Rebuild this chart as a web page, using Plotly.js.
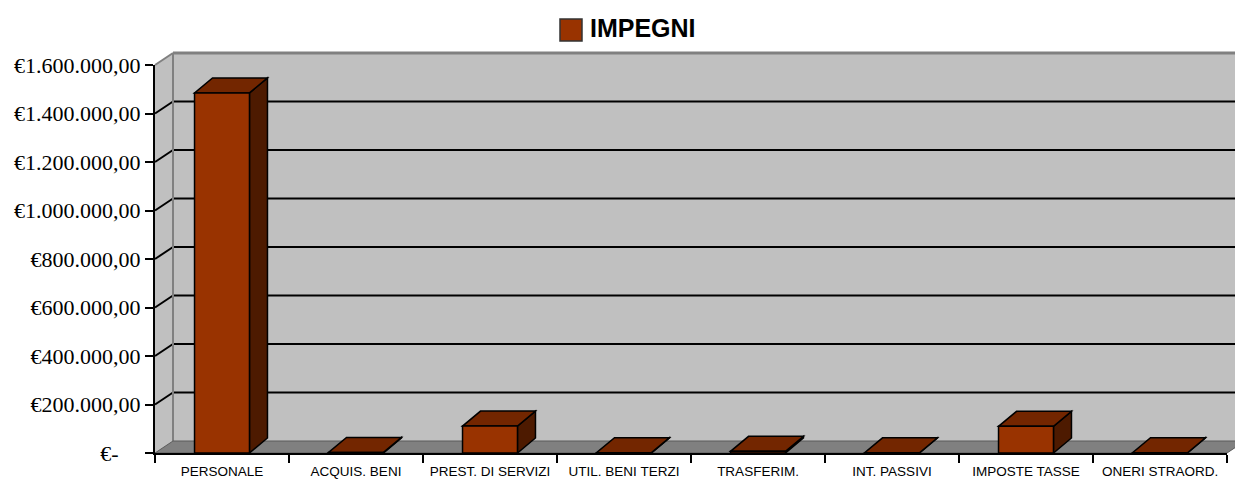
<!DOCTYPE html>
<html>
<head>
<meta charset="utf-8">
<script src="https://cdn.plot.ly/plotly-3.0.1.min.js"></script>
<style>html,body{margin:0;padding:0;background:#fff;}#chart{width:1235px;height:482px;}</style>
</head>
<body>
<div id="chart"></div>
<script>
// ---- data ----
var categories = ["PERSONALE", "ACQUIS. BENI", "PREST. DI SERVIZI", "UTIL. BENI TERZI", "TRASFERIM.", "INT. PASSIVI", "IMPOSTE TASSE", "ONERI STRAORD."];
var impegni = [1485000, 2500, 111000, 1500, 7000, 800, 110000, 1200];
var seriesName = "IMPEGNI";
var yTickVals = [0, 200000, 400000, 600000, 800000, 1000000, 1200000, 1400000, 1600000];
var yTickText = ["€-\u00a0\u00a0\u00a0\u00a0", "€200.000,00", "€400.000,00", "€600.000,00", "€800.000,00", "€1.000.000,00", "€1.200.000,00", "€1.400.000,00", "€1.600.000,00"];

// ---- layout geometry ----
var W = 1235, H = 482;
var M = {l: 155, r: 8, t: 65, b: 29};
var plotW = W - M.l - M.r, plotH = H - M.t - M.b;
var n = categories.length;
var yMax = 1600000;
var xPerPx = n / plotW;          // category units per pixel
var yPerPx = yMax / plotH;       // value units per pixel
var barW = 0.41;
var bdx = 18, bdy = 15;          // bar depth (px)
var wdx = 18, wdy = 12;          // wall depth (px)

var FRONT = "#993300", TOP = "#732600", SIDE = "#4d1a00";
var WALL = "#c0c0c0", FLOOR = "#808080", EDGE = "#808080";

var shapes = [];
function px(xpix) { return xpix / plotW; }
function py(ypix) { return ypix / plotH; }
var wx = px(wdx), wy = py(wdy);

// left side wall
shapes.push({type: "path", xref: "paper", yref: "paper", layer: "below",
  path: "M0,0 L0,1 L" + wx + "," + (1 + wy) + " L" + wx + "," + wy + " Z",
  fillcolor: WALL, line: {width: 0}});
// back wall
shapes.push({type: "rect", xref: "paper", yref: "paper", layer: "below",
  x0: wx, x1: 1 + wx + 0.05, y0: wy, y1: 1 + wy, fillcolor: WALL, line: {width: 0}});
// gridlines on walls
yTickVals.forEach(function (v) {
  if (v === 0 || v === yMax) return;
  var f = v / yMax;
  shapes.push({type: "line", xref: "paper", yref: "paper", layer: "below",
    x0: 0, y0: f, x1: wx, y1: f + wy, line: {color: "#000", width: 2}});
  shapes.push({type: "line", xref: "paper", yref: "paper", layer: "below",
    x0: wx, y0: f + wy, x1: 1 + wx + 0.05, y1: f + wy, line: {color: "#000", width: 2}});
});
// wall edges
shapes.push({type: "line", xref: "paper", yref: "paper", layer: "below",
  x0: 0, y0: 1, x1: wx, y1: 1 + wy, line: {color: EDGE, width: 2}});
shapes.push({type: "line", xref: "paper", yref: "paper", layer: "below",
  x0: wx, y0: 1 + wy, x1: 1 + wx + 0.05, y1: 1 + wy, line: {color: EDGE, width: 3}});
shapes.push({type: "line", xref: "paper", yref: "paper", layer: "below",
  x0: wx, y0: wy, x1: wx, y1: 1 + wy, line: {color: EDGE, width: 2}});
// floor
shapes.push({type: "path", xref: "paper", yref: "paper", layer: "below",
  path: "M0,0 L1,0 L" + (1 + wx) + "," + wy + " L" + wx + "," + wy + " Z",
  fillcolor: FLOOR, line: {color: "#5a5a5a", width: 1}});

// 3D faces of bars (data coordinates)
var dxB = bdx * xPerPx, dyB = bdy * yPerPx, h = barW / 2;
impegni.forEach(function (v, i) {
  var l = i - h, r = i + h;
  shapes.push({type: "path", xref: "x", yref: "y", layer: "below",
    path: "M" + r + ",0 L" + (r + dxB) + "," + dyB + " L" + (r + dxB) + "," + (v + dyB) + " L" + r + "," + v + " Z",
    fillcolor: SIDE, line: {color: "#000", width: 1.5}});
  shapes.push({type: "path", xref: "x", yref: "y", layer: "below",
    path: "M" + l + "," + v + " L" + r + "," + v + " L" + (r + dxB) + "," + (v + dyB) + " L" + (l + dxB) + "," + (v + dyB) + " Z",
    fillcolor: TOP, line: {color: "#000", width: 1.5}});
});

// legend square
shapes.push({type: "rect", xref: "paper", yref: "paper", layer: "above",
  x0: px(560 - M.l), x1: px(582 - M.l), y0: py(H - M.b - 41), y1: py(H - M.b - 19),
  fillcolor: FRONT, line: {color: "#333", width: 1.5}});

var trace = {
  type: "bar", x: categories, y: impegni, name: seriesName, width: barW,
  marker: {color: FRONT, line: {color: "#000", width: 1.5}},
  hoverinfo: "x+y"
};

var layout = {
  width: W, height: H,
  margin: M,
  paper_bgcolor: "#fff", plot_bgcolor: "rgba(0,0,0,0)",
  showlegend: false,
  xaxis: {type: "category", range: [-0.5, n - 0.5], showgrid: false, zeroline: false,
    showline: true, linecolor: "#000", linewidth: 2, ticks: "outside", tickson: "boundaries",
    ticklen: 8, tickwidth: 2, tickcolor: "#000", tickangle: 0, automargin: false, ticklabelstandoff: 5,
    tickfont: {family: "'Liberation Sans', Arial, sans-serif", size: 13.5, color: "#000"}},
  yaxis: {range: [0, yMax], showgrid: false, zeroline: false, automargin: false,
    showline: true, linecolor: "#000", linewidth: 2, ticks: "outside", ticklen: 8, tickwidth: 2, tickcolor: "#000",
    tickmode: "array", tickvals: yTickVals, ticktext: yTickText,
    tickfont: {family: "'Liberation Serif', 'Times New Roman', serif", size: 22, color: "#000"}},
  shapes: shapes,
  annotations: [{xref: "paper", yref: "paper", x: px(588 - M.l), y: py(H - M.b - 28),
    xanchor: "left", yanchor: "middle", showarrow: false, text: "<b>" + seriesName + "</b>",
    font: {family: "'Liberation Sans', Arial, sans-serif", size: 25, color: "#000"}}]
};

Plotly.newPlot("chart", [trace], layout, {displayModeBar: false, staticPlot: true});
</script>
</body>
</html>
